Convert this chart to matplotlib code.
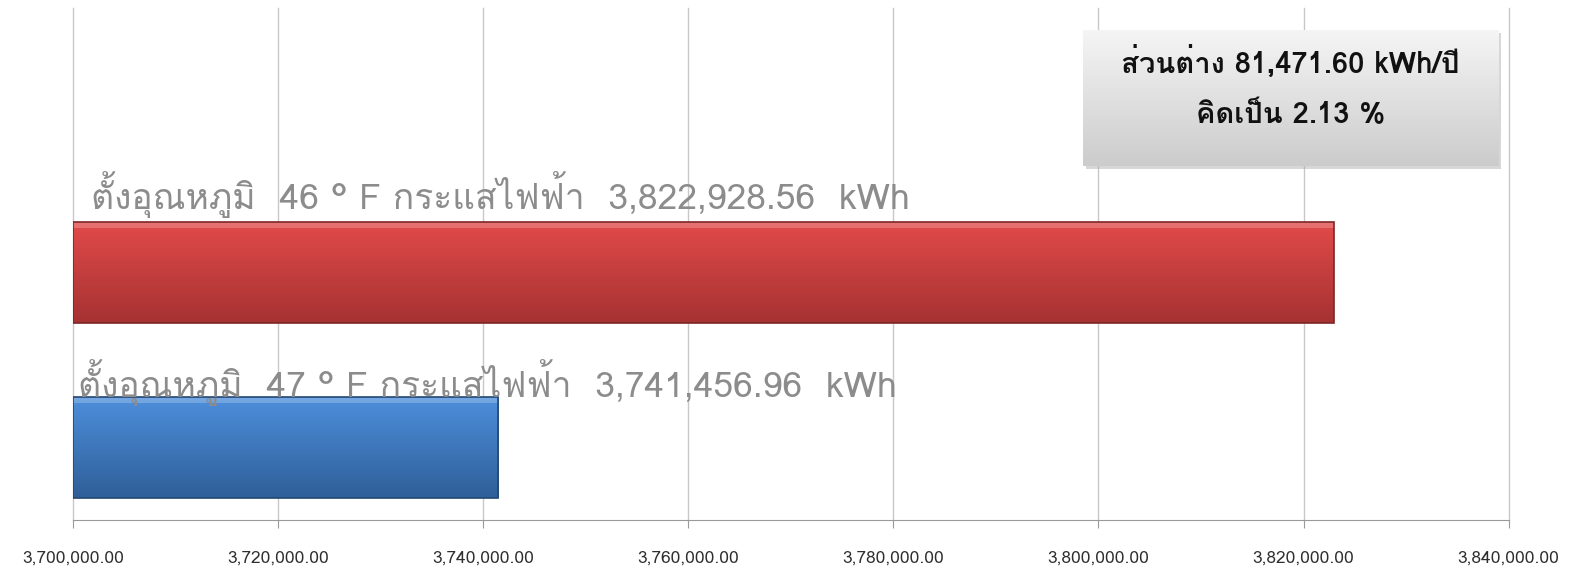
import matplotlib
matplotlib.use("Agg")
import matplotlib.pyplot as plt
import numpy as np
from matplotlib import font_manager
from matplotlib.ft2font import FT2Font
from matplotlib.patches import Rectangle
from matplotlib.ticker import FuncFormatter

# data
settings = ["47", "46"]
energy_kwh = [3741456.96, 3822928.56]
bar_colours_top = ["#4d8fdc", "#e24a4a"]
bar_colours_bottom = ["#2f5f98", "#a63232"]
diff_kwh = 81471.60
diff_pct = 2.13
x_ticks = [3700000, 3720000, 3740000, 3760000, 3780000, 3800000, 3820000, 3840000]


def find_thai_font():
    for f in font_manager.fontManager.ttflist:
        try:
            cm = FT2Font(f.fname).get_charmap()
        except Exception:
            continue
        if 0x0E01 in cm:
            return f.name
    return None


thai = find_thai_font()
families = ([thai] if thai else []) + ["DejaVu Sans"]
plt.rcParams["font.family"] = families

fig = plt.figure(figsize=(15.77, 5.75), dpi=100)
ax = fig.add_axes([0.0465, 0.0957, 0.9101, 0.8903])

y = np.arange(len(settings))
height = 0.58
bars = ax.barh(y, [e - x_ticks[0] for e in energy_kwh], height, left=x_ticks[0],
               color=bar_colours_bottom, edgecolor="none", zorder=3)

# vertical gradient inside each bar
for rect, ctop, cbot in zip(bars, bar_colours_top, bar_colours_bottom):
    c1 = np.array(matplotlib.colors.to_rgb(ctop))
    c2 = np.array(matplotlib.colors.to_rgb(cbot))
    t = np.linspace(0, 1, 64)[:, None]
    grad = (c1 * (1 - t) + c2 * t)[:, None, :]
    x0, y0 = rect.get_x(), rect.get_y()
    w, h = rect.get_width(), rect.get_height()
    im = ax.imshow(grad, extent=(x0, x0 + w, y0, y0 + h), origin="upper",
                   aspect="auto", zorder=4)
    im.set_clip_path(rect)
    # light top bevel and dark edge
    ax.add_patch(Rectangle((x0, y0 + h * 0.94), w, h * 0.06,
                           facecolor="white", alpha=0.22, edgecolor="none", zorder=5))
    ax.add_patch(Rectangle((x0, y0), w, h, facecolor="none",
                           edgecolor=c2 * 0.75, linewidth=1.2, zorder=6))

# labels above bars
label_x_off = [500, 1750]
label_y_off = [-0.05, 0.02]
for yi, s, e, dx, dy in zip(y, settings, energy_kwh, label_x_off, label_y_off):
    ax.text(x_ticks[0] + dx, yi + height / 2 + dy,
            f"ตั้งอุณหภูมิ  {s} ° F กระแสไฟฟ้า  {e:,.2f}  kWh",
            fontsize=25.5, color="#8c8c8c", ha="left", va="bottom", zorder=7)

ax.set_xlim(x_ticks[0], x_ticks[-1])
ax.set_ylim(-0.414, 2.511)
ax.set_xticks(x_ticks)
ax.xaxis.set_major_formatter(FuncFormatter(lambda v, p: f"{v:,.2f}"))
ax.set_yticks([])
ax.grid(axis="x", color="#c8c8c8", linewidth=1.0, zorder=0)
for gl in ax.get_xgridlines():
    gl.set_clip_on(False)
for side in ["top", "right", "left"]:
    ax.spines[side].set_visible(False)
ax.spines["bottom"].set_color("#9a9a9a")
ax.tick_params(axis="x", direction="out", length=6, color="#9a9a9a",
               labelsize=12.5, labelcolor="#2e2e2e", pad=16)

# summary box
shadow = fig.add_axes([0.6887, 0.7063, 0.2632, 0.2365])
shadow.set_facecolor("#b0b0b0")
shadow.set_xticks([])
shadow.set_yticks([])
for sp in shadow.spines.values():
    sp.set_visible(False)
shadow.patch.set_alpha(0.5)

box = fig.add_axes([0.6867, 0.7113, 0.2632, 0.2365])
g = np.linspace(0.96, 0.80, 64)[:, None]
box.imshow(np.dstack([g, g, g]), extent=(0, 1, 0, 1), aspect="auto", origin="upper")
box.set_xlim(0, 1)
box.set_ylim(0, 1)
box.axis("off")
box.text(0.5, 0.765, f"ส่วนต่าง {diff_kwh:,.2f} kWh/ปี", ha="center", va="center",
         fontsize=21, fontweight="bold", color="#111111")
box.text(0.5, 0.375, f"คิดเป็น {diff_pct:.2f} %", ha="center", va="center",
         fontsize=21, fontweight="bold", color="#111111")

fig.savefig("out.png", dpi=100)
